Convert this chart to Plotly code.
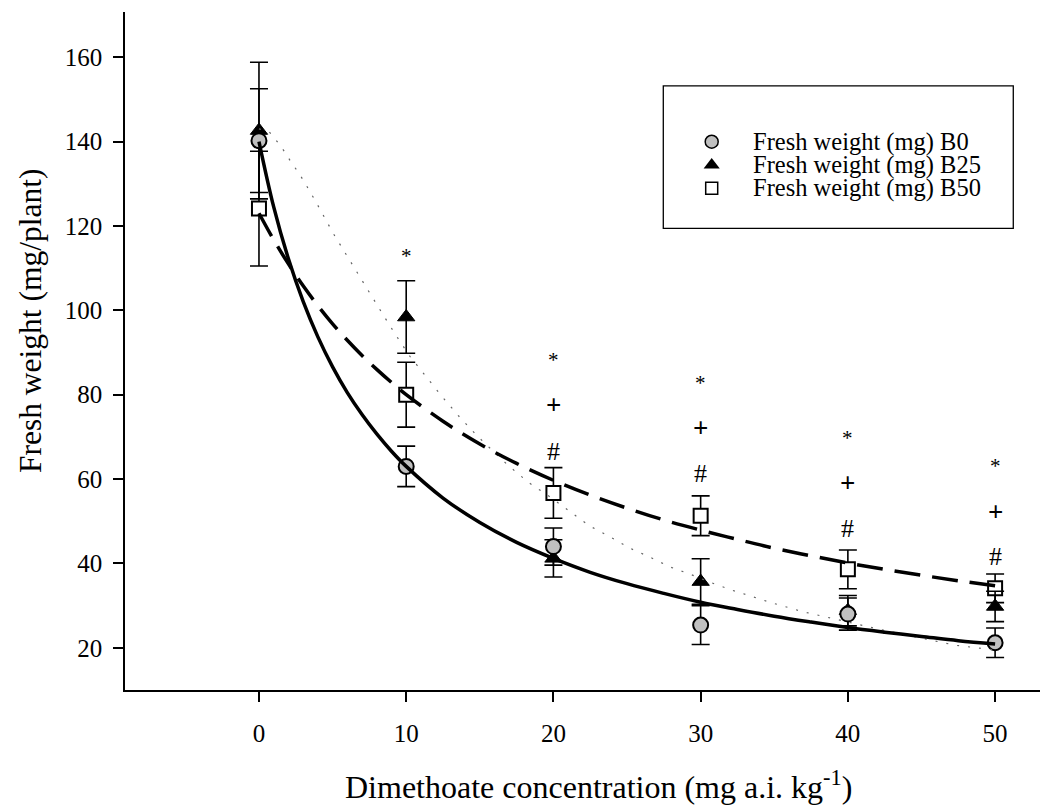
import plotly.graph_objects as go

# ---------------- data ----------------
conc = [0, 10, 20, 30, 40, 50]

b0_mean = [140.2, 63.0, 44.0, 25.4, 28.0, 21.2]
b0_err = [12.3, 4.8, 4.4, 4.6, 3.8, 3.5]

b25_mean = [142.6, 98.4, 41.2, 35.7, 28.8, 29.8]
b25_err = [16.2, 8.6, 4.4, 5.4, 3.6, 3.6]

b50_mean = [124.1, 80.0, 56.7, 51.3, 38.6, 34.1]
b50_err = [13.6, 7.7, 6.0, 4.7, 4.6, 3.4]

# fitted curves
fit_x = [0, 1, 2, 3, 4, 5, 6, 7, 8, 9, 10, 12.5, 15, 17.5, 20, 22.5, 25,
         27.5, 30, 32.5, 35, 37.5, 40, 42.5, 45, 47.5, 50]
fit_b0 = [140.0, 124.5, 112.2, 102.1, 93.7, 86.6, 80.5, 75.3, 70.7, 66.6, 63.0,
          55.5, 49.7, 45.0, 41.2, 37.9, 35.2, 32.9, 30.8, 29.1, 27.5, 26.1,
          24.8, 23.7, 22.7, 21.7, 20.9]
fit_b50 = [123.0, 116.7, 111.0, 105.8, 101.1, 96.8, 92.9, 89.3, 86.0, 82.9, 80.0,
           73.7, 68.3, 63.7, 59.7, 56.2, 53.1, 50.3, 47.9, 45.7, 43.6, 41.8,
           40.1, 38.6, 37.2, 35.9, 34.7]
fit_b25_x = [0, 0.7, 1.3, 1.8, 2.2, 2.7, 3.1, 3.5, 3.9, 5.05, 5.9, 6.75, 7.55,
             8.4, 9.3, 10.25, 11.3, 12.4, 13.55, 14.8, 16.9, 18.35, 19.8, 21.1,
             22.45, 23.85, 25.2, 26.55, 27.9, 29.4, 30.75, 32.1, 33.5, 34.8,
             36.9, 38.35, 40.4, 42.4, 45.0, 47.3, 50]
fit_b25 = [143.0, 142.3, 139.7, 137.3, 135.0, 132.6, 130.3, 127.9, 125.5, 118.2,
           113.3, 108.7, 103.8, 99.1, 94.1, 89.1, 84.5, 79.7, 75.0, 70.3, 63.3,
           59.1, 55.7, 52.3, 48.9, 46.3, 43.6, 41.5, 39.2, 37.3, 35.4, 33.7,
           32.1, 30.7, 28.6, 27.4, 25.8, 24.2, 22.3, 20.6, 19.5]

# significance marks
star_x = [10, 20, 30, 40, 50]
star_y = [113.6, 89.0, 83.5, 70.4, 63.7]
plus_x = [20, 30, 40, 50]
plus_y = [77.5, 72.0, 59.0, 52.2]
hash_x = [20, 30, 40, 50]
hash_y = [66.5, 61.3, 48.3, 41.6]

legend_labels = ["Fresh weight (mg) B0", "Fresh weight (mg) B25", "Fresh weight (mg) B50"]

x_title = "Dimethoate concentration (mg a.i. kg<sup>-1</sup>)"
y_title = "Fresh weight (mg/plant)"

y_ticks = [20, 40, 60, 80, 100, 120, 140, 160]
x_ticks = [0, 10, 20, 30, 40, 50]

# ---------------- figure ----------------
FONT = "Liberation Serif, Times New Roman, serif"
fig = go.Figure()

def err(e):
    return dict(type="data", array=e, visible=True, color="black",
                thickness=1.6, width=9)

fig.add_trace(go.Scatter(
    x=conc, y=b50_mean, mode="markers", error_y=err(b50_err),
    marker=dict(symbol="square", size=14, color="white",
                line=dict(color="black", width=2)), showlegend=False))
fig.add_trace(go.Scatter(
    x=conc, y=b25_mean, mode="markers", error_y=err(b25_err),
    marker=dict(symbol="triangle-up", size=15, color="black",
                line=dict(color="black", width=1)), showlegend=False))
fig.add_trace(go.Scatter(
    x=conc, y=b0_mean, mode="markers", error_y=err(b0_err),
    marker=dict(symbol="circle", size=15, color="#c0c0c0",
                line=dict(color="black", width=2)), showlegend=False))

# fitted curves (drawn on top of the markers, as in the original)
fig.add_trace(go.Scatter(
    x=fit_b25_x, y=fit_b25, mode="lines",
    line=dict(color="#666666", width=1.2, dash="2px,9px"), showlegend=False))
fig.add_trace(go.Scatter(
    x=fit_x, y=fit_b50, mode="lines", line_shape="spline",
    line=dict(color="black", width=3.5, dash="26px,12px"), showlegend=False))
fig.add_trace(go.Scatter(
    x=fit_x, y=fit_b0, mode="lines", line_shape="spline",
    line=dict(color="black", width=3.5), showlegend=False))

# significance marks
annos = []
for xs, ys, sym, size, ysh in [(star_x, star_y, "*", 21, -3),
                               (plus_x, plus_y, "<b>+</b>", 27, 0),
                               (hash_x, hash_y, "#", 26, 0)]:
    for xv, yv in zip(xs, ys):
        annos.append(dict(x=xv, y=yv, xref="x", yref="y", text=sym,
                          showarrow=False, yshift=ysh,
                          font=dict(family=FONT, size=size, color="black")))

# legend (manual, to mimic the boxed SigmaPlot legend)
leg_rows = [0.8087, 0.7743, 0.740]
leg_mx = 0.6412
leg_tx = 0.6857
fig.add_trace(go.Scatter(
    x=[leg_mx], y=[leg_rows[0]], xaxis="x2", yaxis="y2", mode="markers",
    marker=dict(symbol="circle", size=13, color="#c0c0c0",
                line=dict(color="black", width=1.5)), showlegend=False,
    hoverinfo="skip"))
fig.add_trace(go.Scatter(
    x=[leg_mx], y=[leg_rows[1]], xaxis="x2", yaxis="y2", mode="markers",
    marker=dict(symbol="triangle-up", size=14, color="black"), showlegend=False,
    hoverinfo="skip"))
fig.add_trace(go.Scatter(
    x=[leg_mx], y=[leg_rows[2]], xaxis="x2", yaxis="y2", mode="markers",
    marker=dict(symbol="square", size=12, color="white",
                line=dict(color="black", width=1.5)), showlegend=False,
    hoverinfo="skip"))
for lab, ry in zip(legend_labels, leg_rows):
    annos.append(dict(x=leg_tx, y=ry, xref="paper", yref="paper", text=lab,
                      showarrow=False, xanchor="left", yanchor="middle",
                      borderpad=0,
                      font=dict(family=FONT, size=24.5, color="black")))

# axis titles
annos.append(dict(x=0.518, y=-0.140, xref="paper", yref="paper", text=x_title,
                  showarrow=False, xanchor="center", yanchor="middle",
                  font=dict(family=FONT, size=32, color="black")))
annos.append(dict(x=-0.104, y=0.544, xref="paper", yref="paper", text=y_title,
                  showarrow=False, xanchor="center", yanchor="middle",
                  textangle=-90,
                  font=dict(family=FONT, size=31.5, color="black")))

# the page body adds an 8 px offset: shrink the figure so the plot area
# lands at x 125..1040, y 12..690 of the window
fig.update_layout(
    width=1047, height=801,
    margin=dict(l=117, r=15, t=4, b=119),
    paper_bgcolor="white", plot_bgcolor="white",
    font=dict(family=FONT, color="black"),
    annotations=annos,
    shapes=[dict(type="rect", xref="paper", yref="paper",
                 x0=0.5883, x1=0.9708, y0=0.681, y1=0.8909,
                 line=dict(color="black", width=1.3), fillcolor="rgba(0,0,0,0)",
                 layer="above")],
    xaxis=dict(range=[-9.1, 53.05], tickvals=x_ticks, showgrid=False,
               zeroline=False, showline=True, linecolor="black", linewidth=1.5,
               ticks="outside", ticklen=10, tickwidth=1.5, tickcolor="black",
               tickfont=dict(family=FONT, size=25, color="black"),
               ticklabelstandoff=10),
    yaxis=dict(range=[10, 170.7], tickvals=y_ticks, showgrid=False,
               zeroline=False, showline=True, linecolor="black", linewidth=1.5,
               ticks="outside", ticklen=10, tickwidth=1.5, tickcolor="black",
               tickfont=dict(family=FONT, size=25, color="black"),
               ticklabelstandoff=6),
    xaxis2=dict(overlaying="x", range=[0, 1], visible=False, fixedrange=True),
    yaxis2=dict(overlaying="y", range=[0, 1], visible=False, fixedrange=True),
)

fig.write_html("out.html")
